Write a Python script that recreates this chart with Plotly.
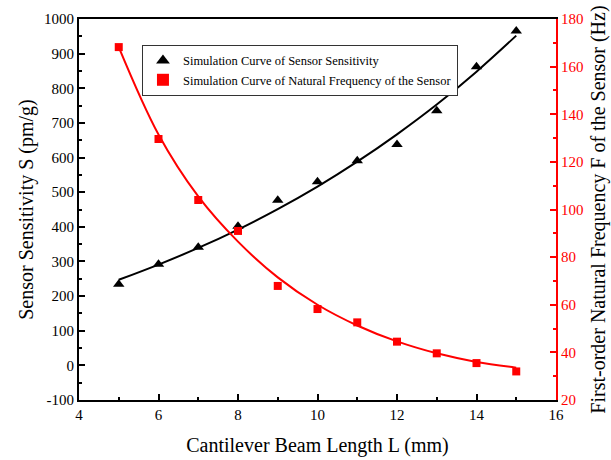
import plotly.graph_objects as go

L = [5, 6, 7, 8, 9, 10, 11, 12, 13, 14, 15]
sensitivity = [234, 292, 341, 402, 477, 530, 591, 638, 735, 862, 965]
frequency = [168.2, 129.6, 104.0, 91.0, 67.9, 58.2, 52.6, 44.5, 39.6, 35.5, 32.0]
sens_fit = [247, 291, 339, 392, 451, 516, 588, 667, 753, 848, 952]
freq_fit = [168.2, 131.5, 105.5, 86.5, 71.5, 60.0, 51.3, 44.6, 39.6, 36.0, 33.6]
y_ticks = [-100, 0, 100, 200, 300, 400, 500, 600, 700, 800, 900, 1000]
y_labels = ["-100", "0", "100", "200", "300", "400", "500", "600", "700", "800", "900", "1000"]

FONT = "Liberation Serif"
fig = go.Figure()
fig.add_trace(go.Scatter(x=L, y=sens_fit, mode="lines", line=dict(color="black", width=2, shape="spline"),
                         showlegend=False, hoverinfo="skip"))
fig.add_trace(go.Scatter(x=L, y=freq_fit, mode="lines", line=dict(color="red", width=2, shape="spline"),
                         showlegend=False, yaxis="y2", hoverinfo="skip"))
fig.add_trace(go.Scatter(x=L, y=sensitivity, mode="markers", name="Simulation Curve of Sensor Sensitivity",
                         marker=dict(symbol="triangle-up", size=10, color="black")))
fig.add_trace(go.Scatter(x=L, y=frequency, mode="markers", name="Simulation Curve of Natural Frequency of the Sensor",
                         marker=dict(symbol="square", size=8, color="red"), yaxis="y2"))

fig.update_layout(
    width=611, height=460,
    margin=dict(l=79, r=55, t=19, b=60),
    plot_bgcolor="white", paper_bgcolor="white",
    font=dict(family=FONT, color="black", size=15),
    xaxis=dict(range=[4, 16], dtick=2, showline=True, linecolor="black", linewidth=2, mirror=True,
               ticks="inside", ticklen=6, tickwidth=1.5, tickcolor="black", showgrid=False, zeroline=False,
               minor=dict(ticks="inside", ticklen=3, dtick=1, tickcolor="black", tickwidth=1.5),
               title=dict(text="Cantilever Beam Length L (mm)", font=dict(size=20), standoff=16),
               tickfont=dict(size=15), automargin=False),
    yaxis=dict(range=[-100, 1000], tickmode="array", tickvals=y_ticks, ticktext=y_labels,
               showline=True, linecolor="black", linewidth=2,
               ticks="inside", ticklen=6, tickwidth=1.5, tickcolor="black", showgrid=False, zeroline=False,
               minor=dict(ticks="inside", ticklen=3, dtick=50, tickcolor="black", tickwidth=1.5),
               title=dict(text="Sensor Sensitivity S (pm/g)", font=dict(size=20), standoff=5),
               tickfont=dict(size=15), automargin=False),
    yaxis2=dict(range=[20, 180], dtick=20, overlaying="y", side="right", showline=True, linecolor="red",
                linewidth=2, ticks="inside", ticklen=6, tickwidth=1.5, tickcolor="red", showgrid=False,
                zeroline=False,
                minor=dict(ticks="inside", ticklen=3, dtick=10, tickcolor="red", tickwidth=1.5),
                title=dict(text="First-order Natural Frequency F of the Sensor (Hz)", font=dict(size=20, color="black"),
                           standoff=8),
                tickfont=dict(size=15, color="red"), automargin=False),
    legend=dict(x=0.132, y=0.932, xanchor="left", yanchor="top", bordercolor="#333", borderwidth=1,
                bgcolor="white", font=dict(size=12.5), itemsizing="constant", tracegroupgap=0,
                itemwidth=30),
)
fig.write_html("out.html")
